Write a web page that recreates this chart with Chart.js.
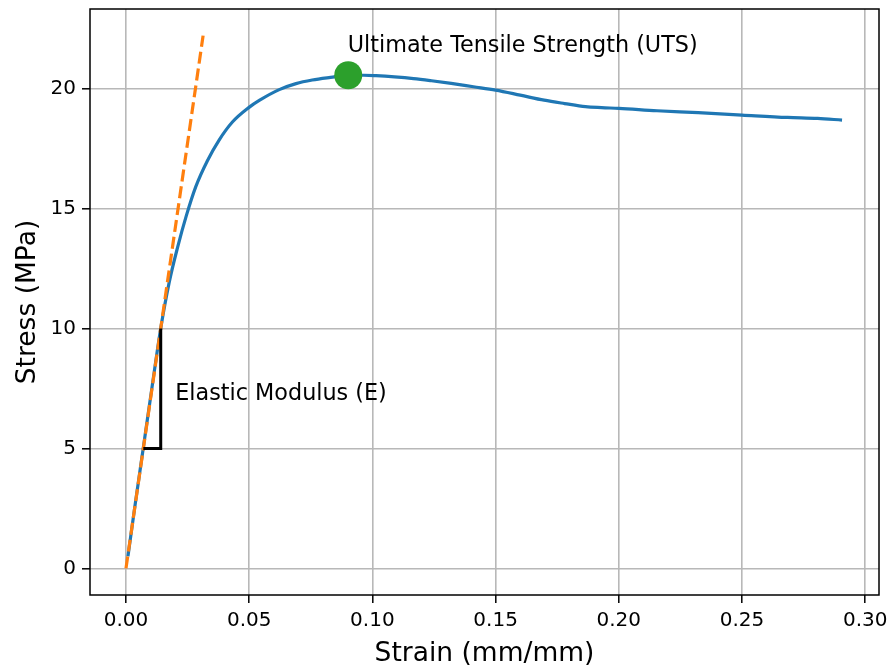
<!DOCTYPE html>
<html>
<head>
<meta charset="utf-8">
<script src="https://cdn.jsdelivr.net/npm/chart.js@4.4.1/dist/chart.umd.min.js"></script>
<style>
  body { margin: 0; background: #fff; }
  #wrap { width: 892px; height: 670px; }
</style>
</head>
<body>
<div id="wrap"><canvas id="stressChart" width="892" height="670"></canvas></div>
<script>
// measured curve (strain in mm/mm, stress in MPa)
var strainValues = [0.0008, 0.0035, 0.007, 0.0105, 0.0141, 0.0175, 0.021, 0.0245, 0.0283, 0.0331,
    0.0378, 0.0432, 0.0498, 0.0541, 0.0622, 0.069, 0.0756, 0.083, 0.0902, 0.0965, 0.1015, 0.109,
    0.1167, 0.124, 0.132, 0.141, 0.150, 0.160, 0.1697, 0.178, 0.1865, 0.193, 0.200, 0.2155, 0.2322,
    0.250, 0.2685, 0.2807, 0.2906];
var stressValues = [0.5, 2.5, 5.0, 7.5, 10.0, 11.9, 13.4, 14.7, 15.9, 17.0,
    17.85, 18.6, 19.2, 19.5, 19.95, 20.2, 20.35, 20.46, 20.55, 20.55, 20.53, 20.48,
    20.41, 20.32, 20.21, 20.07, 19.93, 19.72, 19.51, 19.37, 19.24, 19.2, 19.17, 19.07, 18.99,
    18.89, 18.79, 18.75, 18.68];

// elastic modulus fit line
var modulusStrain = [0, 0.0313];
var modulusStress = [0, 22.2];

// slope triangle
var triangleStrain = [0.00705, 0.0141, 0.0141];
var triangleStress = [5, 5, 10];

// UTS point
var utsStrain = [0.0902];
var utsStress = [20.55];

var xTicks = [0, 0.05, 0.10, 0.15, 0.20, 0.25, 0.30];
var yTicks = [0, 5, 10, 15, 20];

var labelTexts = ['Ultimate Tensile Strength (UTS)', 'Elastic Modulus (E)'];
var labelStrain = [0.09, 0.02];
var labelStress = [21.5, 7];

function toPoints(xs, ys) {
    return xs.map(function (x, i) {
        return { x: x, y: ys[i] };
    });
}

var FONT = '"DejaVu Sans", sans-serif';
Chart.defaults.color = '#000';
Chart.defaults.font.family = FONT;

var framePlugin = {
    id: 'frameAndNotes',
    afterDraw: function (chart) {
        var ctx = chart.ctx;
        var a = chart.chartArea;
        var xs = chart.scales.x, ys = chart.scales.y;
        ctx.save();
        ctx.strokeStyle = '#000';
        ctx.lineWidth = 1.5;
        ctx.strokeRect(a.left, a.top, a.right - a.left, a.bottom - a.top);
        ctx.fillStyle = '#000';
        ctx.font = '22.3px ' + FONT;
        ctx.textAlign = 'left';
        ctx.textBaseline = 'alphabetic';
        labelTexts.forEach(function (t, i) {
            ctx.fillText(t, xs.getPixelForValue(labelStrain[i]), ys.getPixelForValue(labelStress[i]));
        });
        ctx.restore();
    }
};

var ctx = document.getElementById('stressChart').getContext('2d');
var stressChart = new Chart(ctx, {
    type: 'scatter',
    data: {
        datasets: [{
            data: toPoints(utsStrain, utsStress),
            backgroundColor: '#2ca02c',
            borderWidth: 0,
            pointRadius: 14,
            order: 0
        }, {
            data: toPoints(triangleStrain, triangleStress),
            showLine: true,
            borderColor: '#000',
            borderWidth: 3,
            pointRadius: 0,
            order: 1
        }, {
            data: toPoints(modulusStrain, modulusStress),
            showLine: true,
            borderColor: '#ff7f0e',
            borderWidth: 3.2,
            borderDash: [12, 5],
            pointRadius: 0,
            order: 2
        }, {
            data: toPoints(strainValues, stressValues),
            showLine: true,
            borderColor: '#1f77b4',
            borderWidth: 3.2,
            cubicInterpolationMode: 'monotone',
            pointRadius: 0,
            order: 3
        }]
    },
    options: {
        responsive: false,
        animation: false,
        devicePixelRatio: 1,
        layout: { autoPadding: false, padding: { top: 9, right: 13, left: 0, bottom: 0 } },
        plugins: {
            legend: { display: false },
            tooltip: { enabled: false }
        },
        scales: {
            x: {
                type: 'linear',
                min: -0.0146,
                max: 0.3056,
                afterBuildTicks: function (axis) {
                    axis.ticks = xTicks.map(function (v) { return { value: v }; });
                },
                afterFit: function (axis) {
                    axis.height = 75;
                    axis.paddingLeft = 0;
                    axis.paddingRight = 0;
                },
                grid: { color: '#b8b8b8', lineWidth: 1.6, tickLength: 8, tickColor: '#000', tickWidth: 1.5 },
                border: { display: false },
                ticks: {
                    padding: 6,
                    maxRotation: 0,
                    font: { size: 20 },
                    callback: function (v) { return v.toFixed(2); }
                },
                title: { display: true, text: 'Strain (mm/mm)', font: { size: 26.5 }, padding: { top: 5, bottom: 0 } }
            },
            y: {
                type: 'linear',
                min: -1.11,
                max: 23.31,
                afterBuildTicks: function (axis) {
                    axis.ticks = yTicks.map(function (v) { return { value: v }; });
                },
                afterFit: function (axis) {
                    axis.width = 90;
                    axis.paddingTop = 0;
                    axis.paddingBottom = 0;
                },
                grid: { color: '#b8b8b8', lineWidth: 1.6, tickLength: 8, tickColor: '#000', tickWidth: 1.5 },
                border: { display: false },
                ticks: {
                    padding: 6,
                    font: { size: 20 },
                    callback: function (v) { return String(v); }
                },
                title: { display: true, text: 'Stress (MPa)', font: { size: 26.5 }, padding: { top: 12, bottom: 0 } }
            }
        }
    },
    plugins: [framePlugin]
});
</script>
</body>
</html>
